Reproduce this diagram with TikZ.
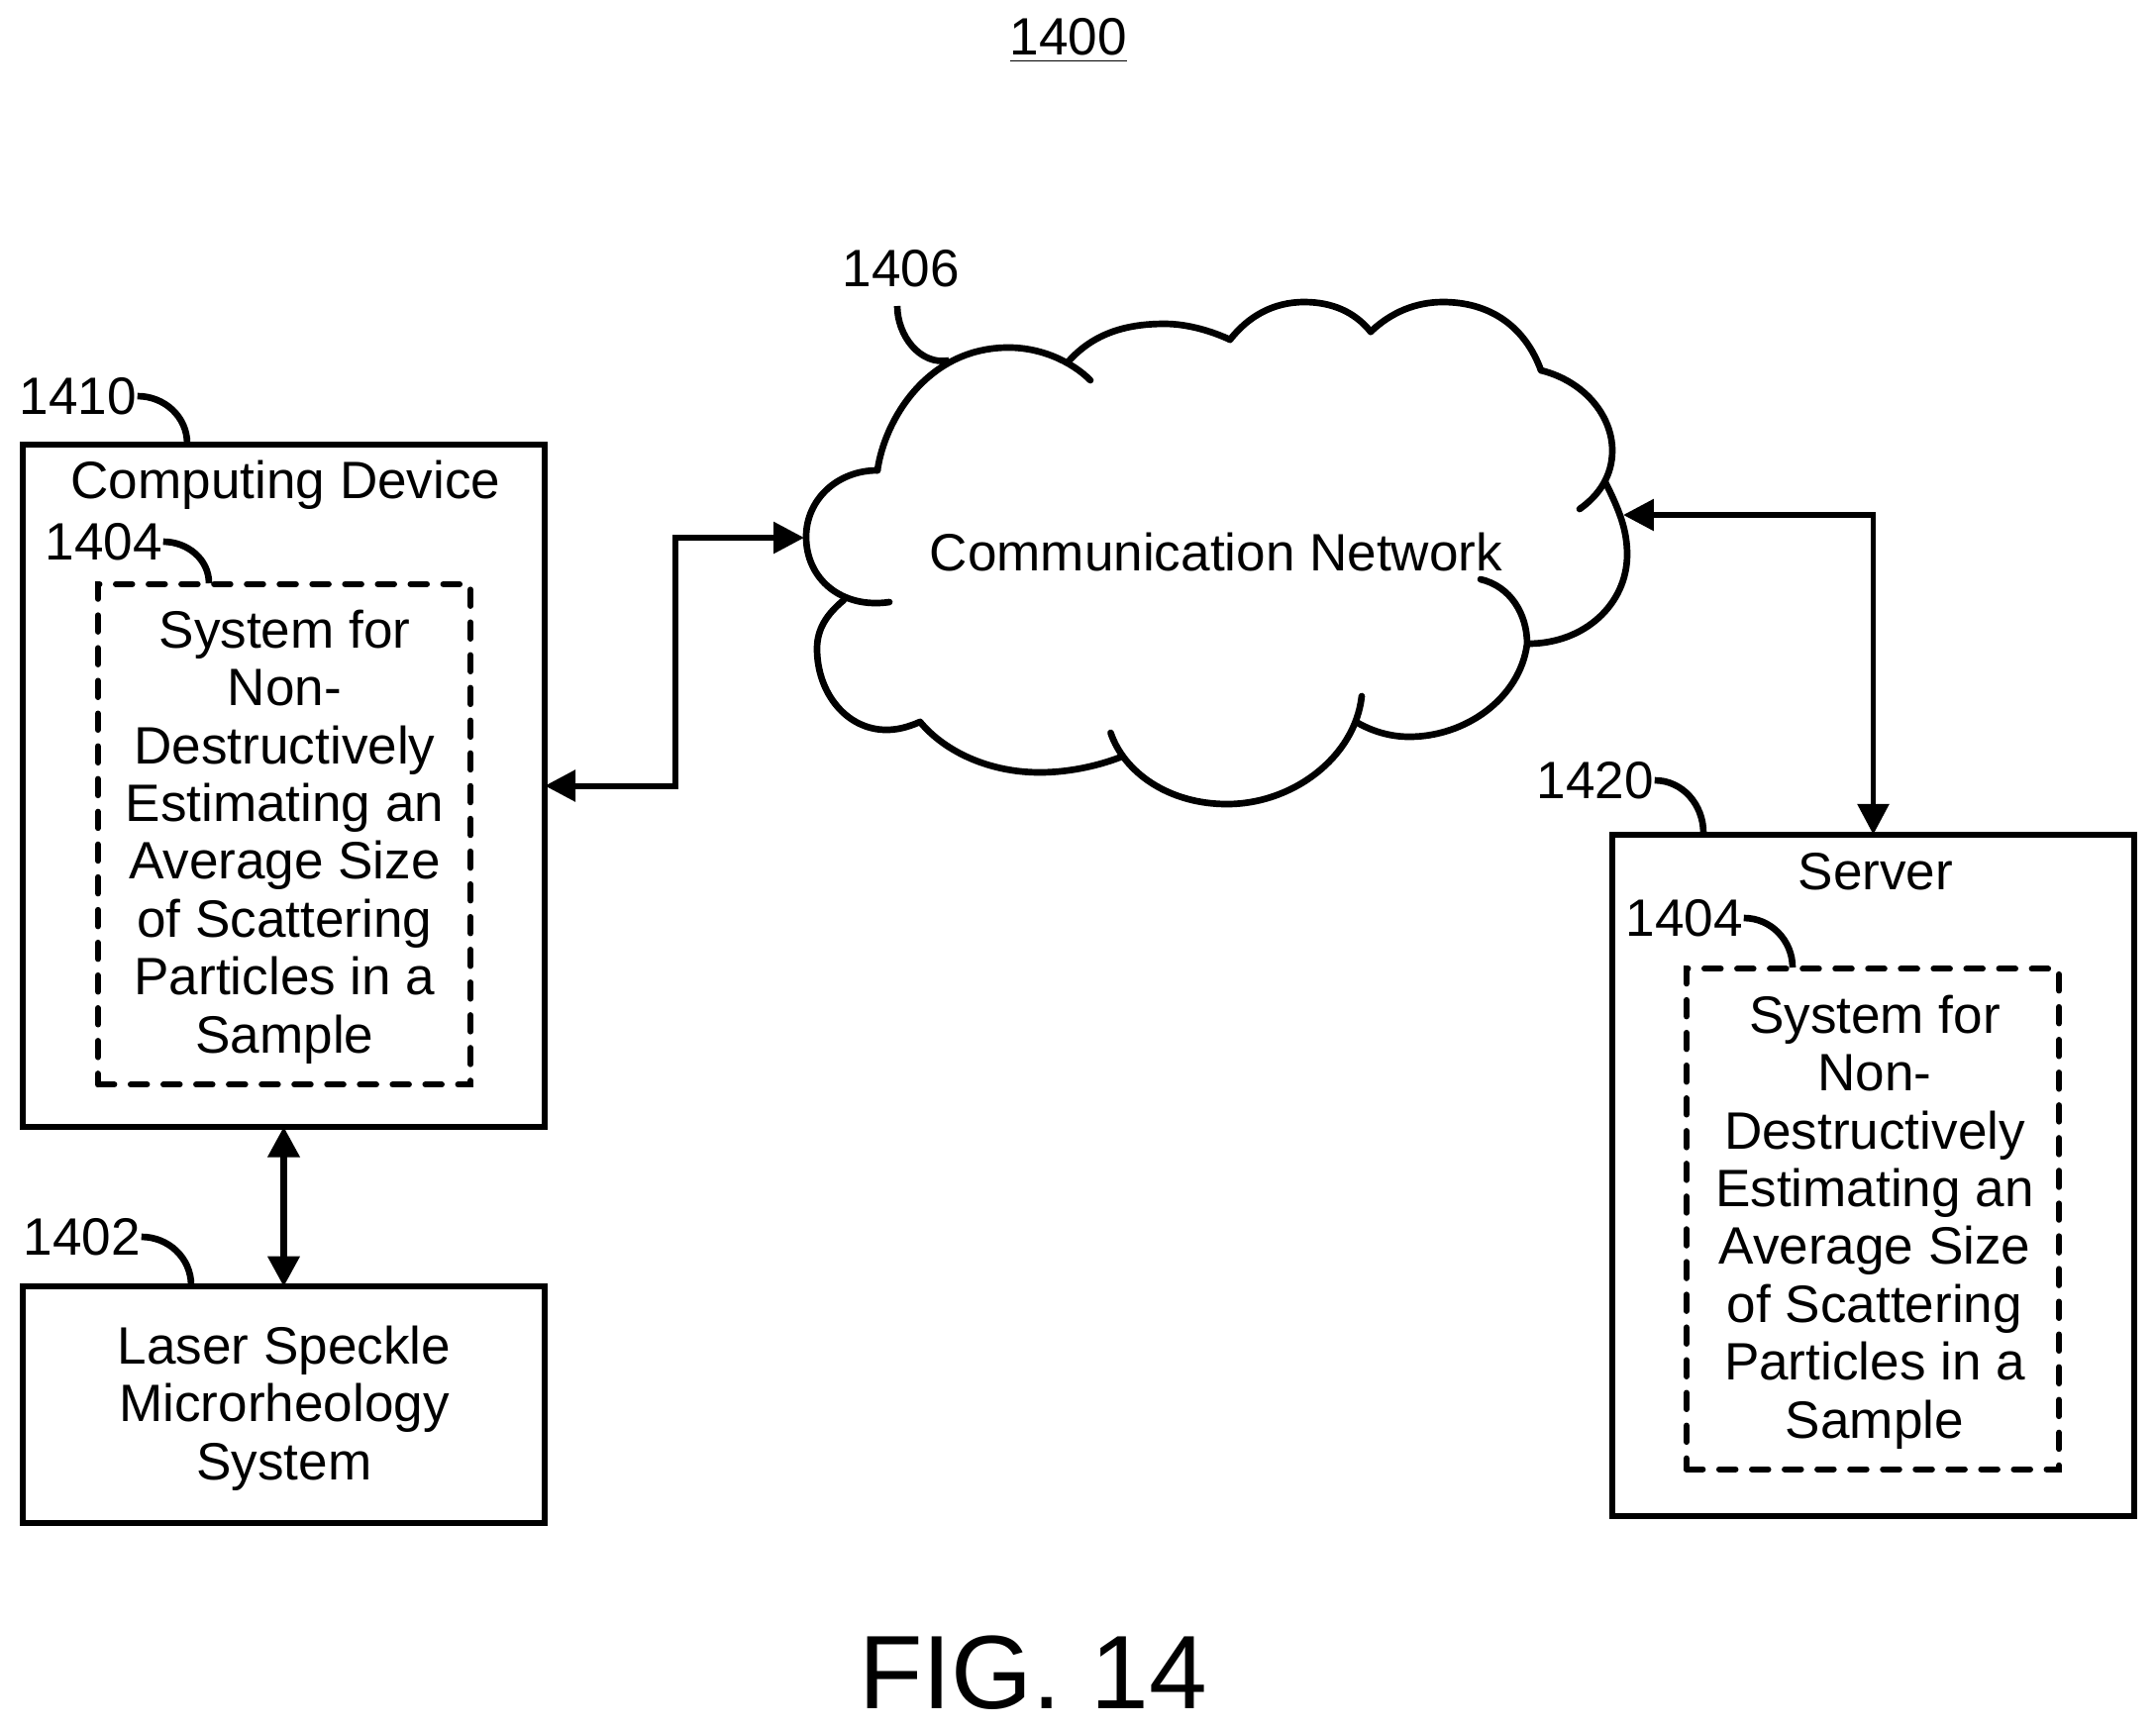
\documentclass[tikz,border=0pt]{standalone}
\usepackage{fontspec}
\setmainfont{Liberation Sans}
\usetikzlibrary{arrows.meta}
\tikzset{
  txt/.style={inner sep=0pt, align=center, font=\fontsize{15.1}{16.6}\selectfont},
  outerbox/.style={txt, draw, line width=1.7pt, minimum width=5.27cm, outer sep=0pt},
  sysbox/.style={txt, draw, line width=1.7pt, line cap=round, dash pattern=on 4.7pt off 4.7pt,
    minimum width=3.76cm, minimum height=5.05cm},
  leader/.style={line width=1.9pt},
  link/.style={line width=1.7pt, {Triangle[length=8.8pt,width=8.8pt]}-{Triangle[length=8.8pt,width=8.8pt]}},
  cloudline/.style={line width=1.9pt, line cap=round}
}
\newcommand{\systext}{System for\\Non-\\Destructively\\Estimating an\\Average Size\\of Scattering\\Particles in a\\Sample}
\begin{document}
\begin{tikzpicture}[x=0.01cm, y=-0.01cm]
    \useasboundingbox (0, 0) rectangle (2177, 1744);

    % Titre et figure
    \node[txt] (title) at (1079, 41) {\underline{1400}};
    \node[inner sep=0pt, font=\fontsize{30}{32}\selectfont] (figlabel) at (1043, 1689) {FIG. 14};

    % Boites de gauche
    \node[outerbox, minimum height=6.88cm] (device) at (286.5, 793.5) {};
    \node[txt] (devicename) at (288.5, 490) {Computing Device};
    \node[sysbox] (sysleft) at (287, 842.5) {};
    \node[txt] (sysleftname) at (287.5, 845) {\systext};
    \node[outerbox, minimum height=2.38cm] (laser) at (286.5, 1418.5) {};
    \node[txt] (lasername) at (287, 1422) {Laser Speckle\\Microrheology\\System};

    % Boites de droite
    \node[outerbox, minimum height=6.88cm] (server) at (1891.5, 1187) {};
    \node[txt] (servername) at (1894, 880) {Server};
    \node[sysbox] (sysright) at (1891, 1231) {};
    \node[txt] (sysrightname) at (1893, 1234) {\systext};

    % Reseau
    \node[txt] (network) at (1228, 558) {Communication Network};
    \coordinate (cloudwest) at (812, 543);
    \coordinate (cloudeast) at (1639, 520);
    \coordinate (bendleft) at (682, 793.5);
    \coordinate (bendright) at (1891.5, 520);

    % Nuage, lobe par lobe
    \draw[cloudline] (886,475) .. controls (893,425) and (935,353) .. (1015,351) .. controls (1050,350) and (1082,365) .. (1101,384);
    \draw[cloudline] (1078,366) .. controls (1105,335) and (1140,327) .. (1176,327) .. controls (1200,327) and (1225,335) .. (1242,343);
    \draw[cloudline] (1242,343) .. controls (1260,320) and (1285,305) .. (1317,305) .. controls (1345,305) and (1368,315) .. (1384,335);
    \draw[cloudline] (1384,335) .. controls (1405,315) and (1430,305) .. (1457,305) .. controls (1505,305) and (1540,330) .. (1556,374);
    \draw[cloudline] (1556,374) .. controls (1600,385) and (1628,420) .. (1628,455) .. controls (1628,480) and (1615,500) .. (1595,514);
    \draw[cloudline] (1621,487) .. controls (1635,515) and (1643,535) .. (1643,560) .. controls (1643,610) and (1600,650) .. (1543,650);
    \draw[cloudline] (1495,585) .. controls (1525,592) and (1542,620) .. (1542,650) .. controls (1535,705) and (1480,744) .. (1423,744) .. controls (1403,744) and (1385,738) .. (1371,730);
    \draw[cloudline] (1375,703) .. controls (1368,765) and (1305,812) .. (1239,812) .. controls (1180,812) and (1135,780) .. (1121.5,740);
    \draw[cloudline] (1133,764) .. controls (1105,775) and (1075,780) .. (1050,780) .. controls (1000,780) and (955,760) .. (929,729);
    \draw[cloudline] (929,729) .. controls (915,735) and (905,737) .. (895,737) .. controls (855,737) and (825,700) .. (825,655) .. controls (825,635) and (835,620) .. (852,606);
    \draw[cloudline] (898,608) .. controls (850,615) and (814,585) .. (814,542) .. controls (814,505) and (845,475) .. (886,475);

    % Liaisons
    \draw[link] (device.east) -- (bendleft) |- (cloudwest);
    \draw[link] (cloudeast) -- (bendright) -- (server.north);
    \draw[link, line width=2.1pt] (device.south) -- (laser.north);

    % Reperes
    \node[txt] (reffourten) at (79, 400) {1410};
    \node[txt] (refsysleft) at (105, 547) {1404};
    \node[txt] (reflaser) at (83, 1249) {1402};
    \node[txt] (refcloud) at (910, 271) {1406};
    \node[txt] (refserver) at (1611, 788) {1420};
    \node[txt] (refsysright) at (1701, 927) {1404};

    \coordinate (tipdevice) at (189, 448);
    \coordinate (tipsysleft) at (211, 589);
    \coordinate (tiplaser) at (193, 1298);
    \coordinate (tipserver) at (1720, 841);
    \coordinate (tipsysright) at (1810, 977);
    \coordinate (startcloud) at (906, 309);
    \coordinate (tipcloud) at (958, 364);

    \draw[leader] (reffourten.east) to[out=0, in=90] (tipdevice);
    \draw[leader] (refsysleft.east) to[out=0, in=90] (tipsysleft);
    \draw[leader] (reflaser.east) to[out=0, in=90] (tiplaser);
    \draw[leader] (refserver.east) to[out=0, in=90] (tipserver);
    \draw[leader] (refsysright.east) to[out=0, in=90] (tipsysright);
    \draw[leader] (startcloud) to[out=-90, in=190] (tipcloud);
\end{tikzpicture}
\end{document}
